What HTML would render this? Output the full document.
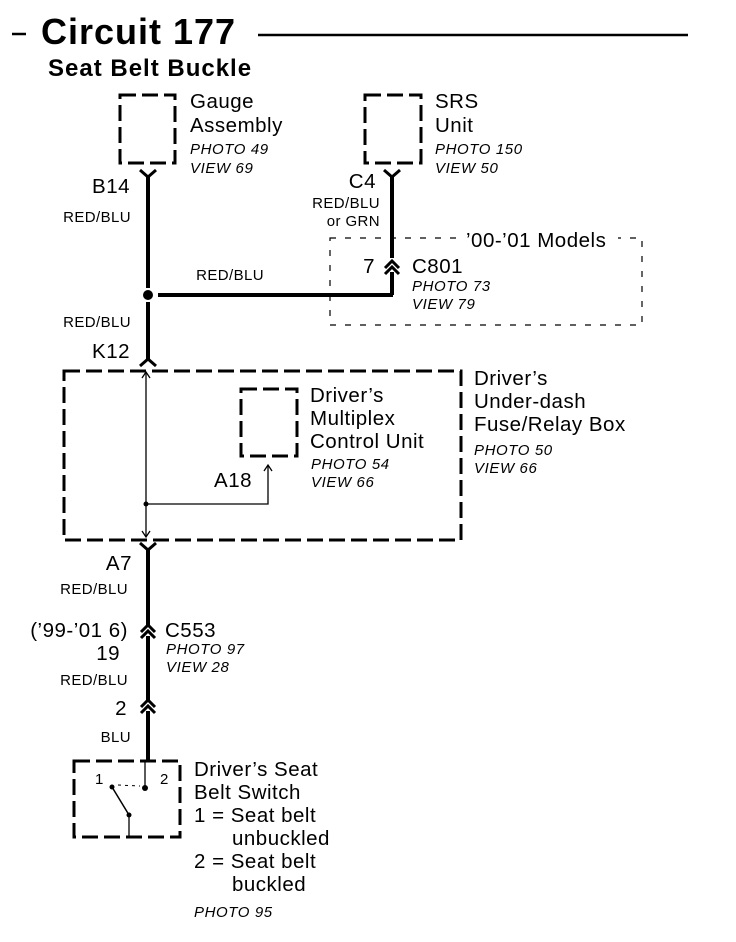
<!DOCTYPE html>
<html><head><meta charset="utf-8"><style>
html,body{margin:0;padding:0;background:#fff;}
svg{display:block;}
text{font-family:"Liberation Sans",Arial,sans-serif;fill:#000;}
.b{font-size:20.5px;letter-spacing:0.5px;}
.s{font-size:15px;letter-spacing:0.4px;}
.i{font-size:15px;font-style:italic;letter-spacing:0.6px;}
</style></head><body>
<svg width="736" height="942" viewBox="0 0 736 942" xmlns="http://www.w3.org/2000/svg">
<!-- title -->
<line x1="12" y1="34" x2="26" y2="34" stroke="#000" stroke-width="2.5"/>
<text x="41" y="44" style="font-size:36px;font-weight:bold;letter-spacing:1px">Circuit 177</text>
<line x1="258" y1="35" x2="688" y2="35" stroke="#000" stroke-width="2.5"/>
<text x="48" y="76" style="font-size:24px;font-weight:bold;letter-spacing:1px">Seat Belt Buckle</text>

<g fill="none" stroke="#000">
<rect x="120" y="95" width="55" height="68" stroke-width="3" stroke-dasharray="16,6"/>
<rect x="365" y="95" width="56" height="68" stroke-width="3" stroke-dasharray="16,6"/>
<rect x="330" y="238" width="312" height="87" stroke-width="1.2" stroke-dasharray="6,9"/>
<rect x="64" y="371" width="397" height="169" stroke-width="3" stroke-dasharray="16,6"/>
<rect x="241" y="389" width="56" height="67" stroke-width="3" stroke-dasharray="16,6"/>
<rect x="74" y="761" width="106" height="76" stroke-width="3" stroke-dasharray="16,6"/>

<line x1="148" y1="176" x2="148" y2="288" stroke-width="4"/>
<line x1="148" y1="302" x2="148" y2="360" stroke-width="4"/>
<line x1="158" y1="295" x2="393" y2="295" stroke-width="4"/>
<line x1="392" y1="176" x2="392" y2="258" stroke-width="4"/>
<line x1="392" y1="272" x2="392" y2="295" stroke-width="4"/>
<line x1="148" y1="548" x2="148" y2="625" stroke-width="4"/>
<line x1="148" y1="636" x2="148" y2="700" stroke-width="4"/>
<line x1="148" y1="711" x2="148" y2="761" stroke-width="4"/>
<path d="M140 170 L148 177 L156 170" stroke-width="3"/>
<path d="M384 170 L392 177 L400 170" stroke-width="3"/>
<path d="M140 366 L148 359 L156 366" stroke-width="3"/>
<path d="M140 543 L148 550 L156 543" stroke-width="3"/>
<path d="M385 268 L392 261 L399 268 M385 274 L392 267 L399 274" stroke-width="3"/>
<path d="M141 632 L148 625 L155 632 M141 638 L148 631 L155 638" stroke-width="3"/>
<path d="M141 707 L148 700 L155 707 M141 713 L148 706 L155 713" stroke-width="3"/>

<line x1="146" y1="373" x2="146" y2="537" stroke-width="1.3"/>
<path d="M142 378 L146 372 L150 378" stroke-width="1.3"/>
<path d="M142 531 L146 537 L150 531" stroke-width="1.3"/>
<polyline points="146,504 268,504 268,466" stroke-width="1.3"/>
<path d="M264 471 L268 465 L272 471" stroke-width="1.3"/>

<line x1="145" y1="761" x2="145" y2="786" stroke-width="1.3"/>
<line x1="112" y1="787" x2="129" y2="815" stroke-width="1.5"/>
<line x1="129" y1="815" x2="129" y2="837" stroke-width="1.3"/>
<line x1="118" y1="785" x2="140" y2="786" stroke-width="1" stroke-dasharray="3,4"/>
</g>
<circle cx="148" cy="295" r="5"/>
<circle cx="146" cy="504" r="2.5"/>
<circle cx="145" cy="788" r="3"/>
<circle cx="112" cy="787" r="2.5"/>
<circle cx="129" cy="815" r="2.5"/>

<text class="b" x="190" y="108">Gauge</text>
<text class="b" x="190" y="132">Assembly</text>
<text class="i" x="190" y="154">PHOTO 49</text>
<text class="i" x="190" y="173">VIEW 69</text>
<text class="b" x="130" y="193" text-anchor="end">B14</text>
<text class="s" x="131" y="222" text-anchor="end">RED/BLU</text>
<text class="s" x="264" y="280" text-anchor="end">RED/BLU</text>
<text class="s" x="131" y="327" text-anchor="end">RED/BLU</text>
<text class="b" x="130" y="358" text-anchor="end">K12</text>

<text class="b" x="435" y="108">SRS</text>
<text class="b" x="435" y="132">Unit</text>
<text class="i" x="435" y="154">PHOTO 150</text>
<text class="i" x="435" y="173">VIEW 50</text>
<text class="b" x="376" y="188" text-anchor="end">C4</text>
<text class="s" x="380" y="208" text-anchor="end">RED/BLU</text>
<text class="s" x="380" y="226" text-anchor="end">or GRN</text>
<rect x="462" y="229" width="156" height="20" fill="#fff"/>
<text class="b" x="466" y="247">’00-’01 Models</text>
<text class="b" x="375" y="273" text-anchor="end">7</text>
<text class="b" x="412" y="273">C801</text>
<text class="i" x="412" y="291">PHOTO 73</text>
<text class="i" x="412" y="309">VIEW 79</text>

<text class="b" x="474" y="385">Driver’s</text>
<text class="b" x="474" y="408">Under-dash</text>
<text class="b" x="474" y="431">Fuse/Relay Box</text>
<text class="i" x="474" y="455">PHOTO 50</text>
<text class="i" x="474" y="473">VIEW 66</text>

<text class="b" x="310" y="402">Driver’s</text>
<text class="b" x="310" y="425">Multiplex</text>
<text class="b" x="310" y="448">Control Unit</text>
<text class="i" x="311" y="469">PHOTO 54</text>
<text class="i" x="311" y="487">VIEW 66</text>
<text class="b" x="252" y="487" text-anchor="end">A18</text>

<text class="b" x="132" y="570" text-anchor="end">A7</text>
<text class="s" x="128" y="594" text-anchor="end">RED/BLU</text>
<text class="b" x="128" y="637" text-anchor="end">(’99-’01 6)</text>
<text class="b" x="120" y="660" text-anchor="end">19</text>
<text class="b" x="165" y="637">C553</text>
<text class="i" x="166" y="654">PHOTO 97</text>
<text class="i" x="166" y="672">VIEW 28</text>
<text class="s" x="128" y="685" text-anchor="end">RED/BLU</text>
<text class="b" x="127" y="715" text-anchor="end">2</text>
<text class="s" x="131" y="742" text-anchor="end">BLU</text>

<text class="s" x="95" y="784">1</text>
<text class="s" x="160" y="784">2</text>
<text class="b" x="194" y="776">Driver’s Seat</text>
<text class="b" x="194" y="799">Belt Switch</text>
<text class="b" x="194" y="822">1 = Seat belt</text>
<text class="b" x="232" y="845">unbuckled</text>
<text class="b" x="194" y="868">2 = Seat belt</text>
<text class="b" x="232" y="891">buckled</text>
<text class="i" x="194" y="917">PHOTO 95</text>
</svg>
</body></html>
